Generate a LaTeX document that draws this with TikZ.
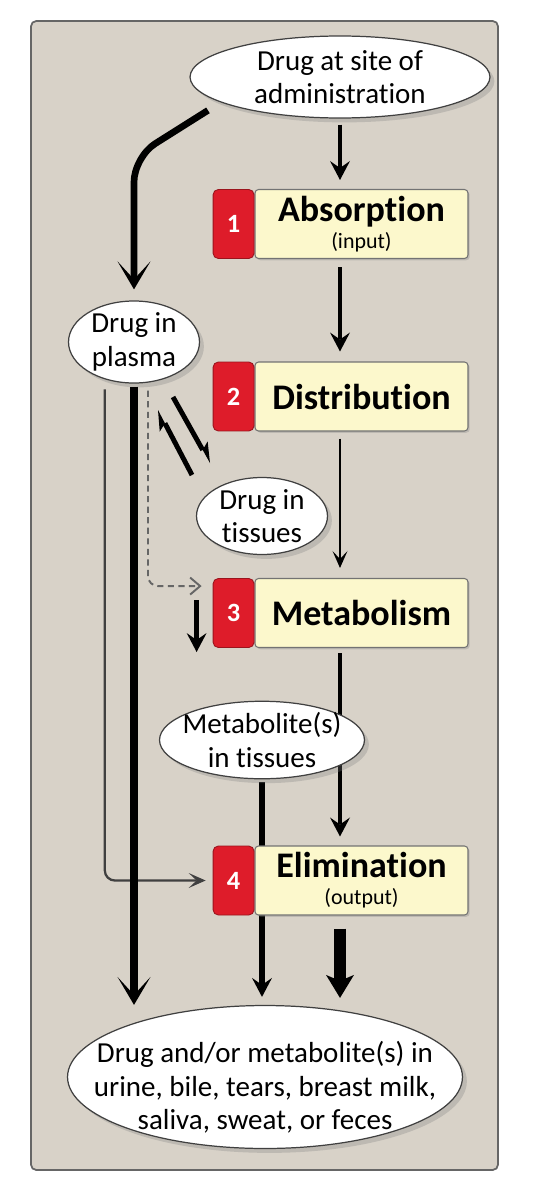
\documentclass[tikz,border=0pt]{standalone}
\usepackage{fontspec}
\setmainfont[Ligatures=NoCommon]{Carlito}
\usetikzlibrary{positioning,shapes.geometric,arrows.meta,shadows,backgrounds}

\definecolor{panelgray}{RGB}{216,210,200}
\definecolor{stageyellow}{RGB}{252,248,204}
\definecolor{stagered}{RGB}{222,28,42}

\tikzset{
  pool/.style={ellipse,draw=black!75,line width=0.7pt,fill=white,inner sep=0pt,align=center,
    font=\fontsize{16.5}{19}\selectfont,
    drop shadow={shadow xshift=2.5pt,shadow yshift=-2.5pt,opacity=0.3}},
  stage/.style={rectangle,rounded corners=2pt,draw=black!55,line width=0.6pt,fill=stageyellow,
    minimum width=4.26cm,minimum height=1.38cm,inner sep=0pt,align=center,
    font=\fontsize{20.5}{15.5}\selectfont\bfseries,
    drop shadow={shadow xshift=1pt,shadow yshift=-1pt,opacity=0.3}},
  stagenum/.style={rectangle,rounded corners=3pt,draw=stagered!70!black,line width=0.5pt,
    fill=stagered,minimum width=0.82cm,minimum height=1.38cm,inner sep=0pt,text=white,
    font=\fontsize{15}{15}\selectfont\bfseries},
  bigarrow/.style={line width=4pt,-{Stealth[length=0.56cm,width=0.66cm,inset=0.36cm,line width=0pt]}},
  midarrow/.style={line width=2.8pt,-{Stealth[length=0.38cm,width=0.4cm,inset=0.14cm,line width=0pt]}},
  thinarrow/.style={line width=1.3pt,-{Stealth[length=0.34cm,width=0.3cm,inset=0.16cm,line width=0pt]}},
  eqarrow/.style={line width=2.8pt,-{Stealth[harpoon,length=0.4cm,width=0.34cm,inset=0.1cm,line width=0pt]}}
}

\begin{document}
\begin{tikzpicture}[x=0.02cm,y=-0.02cm]
  \useasboundingbox (0,0) rectangle (545,1200);
  \begin{scope}[on background layer]
    \draw[draw=black!60,line width=1pt,fill=panelgray,rounded corners=3pt] (31,21) rectangle (498,1170);
  \end{scope}

  % pools
  \node[pool,minimum width=6cm,minimum height=1.64cm] (site) at (340,77) {Drug at site of\\administration};
  \node[pool,minimum width=2.62cm,minimum height=1.52cm] (plasma) at (134,342) {Drug in\\plasma};
  \node[pool,minimum width=2.62cm,minimum height=1.54cm] (tissues) at (262,516) {Drug in\\tissues};
  \node[pool,inner xsep=-0.2cm,minimum width=4.1cm,minimum height=1.48cm] (metab) at (262,740) {Metabolite(s)\\in tissues};
  \node[pool,inner xsep=-0.7cm,inner ysep=-0.25cm,minimum width=7.9cm,minimum height=2.86cm] (excreta) at (265,1077)
    {\rule{0pt}{24pt}Drug and/or metabolite(s) in\\urine, bile, tears, breast milk,\\saliva, sweat, or feces};

  % stages
  \node[stage] (absorb) at (361.5,224) {Absorption\\{\mdseries\fontsize{12.5}{14}\selectfont (input)}};
  \node[stage] (distrib) at (361.5,396.5) {Distribution};
  \node[stage] (metabol) at (361.5,613) {Metabolism};
  \node[stage] (elim) at (361.5,880.5) {Elimination\\{\mdseries\fontsize{12.5}{14}\selectfont (output)}};
  \node[stagenum,left=0pt of absorb] (absorbnum) {1};
  \node[stagenum,left=0pt of distrib] (distribnum) {2};
  \node[stagenum,left=0pt of metabol] (metabolnum) {3};
  \node[stagenum,left=0pt of elim] (elimnum) {4};

  % main column
  \draw[midarrow,shorten <=0.12cm,shorten >=0.18cm] (site.south) -- (site.south |- absorb.north);
  \draw[midarrow,shorten <=0.16cm,shorten >=0.2cm] (site.south |- absorb.south) -- (site.south |- distrib.north);
  \draw[thinarrow,shorten <=0.14cm,shorten >=0.2cm] (site.south |- distrib.south) -- (site.south |- metabol.north);
  \begin{scope}[on background layer]
    \draw[midarrow,line width=2.6pt,shorten <=0.1cm,shorten >=0.18cm] (site.south |- metabol.south) -- (site.south |- elim.north);
    \draw[midarrow,line width=3.6pt,shorten <=0.06cm,shorten >=0.16cm] (metab.south) -- (metab.south |- excreta.north);
  \end{scope}
  \draw[line width=7pt,-{Stealth[length=0.46cm,width=0.56cm,inset=0.12cm,line width=0pt]},shorten <=0.26cm,shorten >=0.14cm]
    (site.south |- elim.south) -- (site.south |- excreta.north);

  % plasma side
  \coordinate (bend) at (134,157);
  \draw[bigarrow,line width=3.8pt,rounded corners=0.5cm,shorten <=0.3cm,shorten >=0.22cm] (site.-168) -- (bend) -- (plasma.north);
  \draw[thinarrow,black!75,rounded corners=0.2cm,shorten <=0.2cm,shorten >=0.14cm] (plasma.-128) |- (elimnum.west);
  \draw[black!60,line width=1.1pt,dash pattern=on 3.5pt off 2.5pt,rounded corners=0.2cm,
    -{Straight Barb[length=0.2cm,width=0.34cm]},shorten <=0.16cm,shorten >=0.22cm]
    (plasma.-71) |- ([yshift=-0.16cm]metabolnum.north west);
  \draw[bigarrow,line width=4.2pt,shorten <=0.06cm] (plasma.south) -- (plasma.south |- excreta.north);

  % plasma <-> tissues
  \coordinate (plasmaout) at (173,397);
  \coordinate (tissuein) at (210,463);
  \coordinate (tissueout) at (192,475);
  \coordinate (plasmain) at (158,410);
  \draw[eqarrow] (plasmaout) -- (tissuein);
  \draw[eqarrow] (tissueout) -- (plasmain);

  \draw[midarrow,line width=3pt] ([xshift=-0.32cm,yshift=0.26cm]metabolnum.west) coordinate (branch)
    -- ([xshift=-0.32cm,yshift=-0.78cm]metabolnum.west) coordinate (branchend);
\end{tikzpicture}
\end{document}
